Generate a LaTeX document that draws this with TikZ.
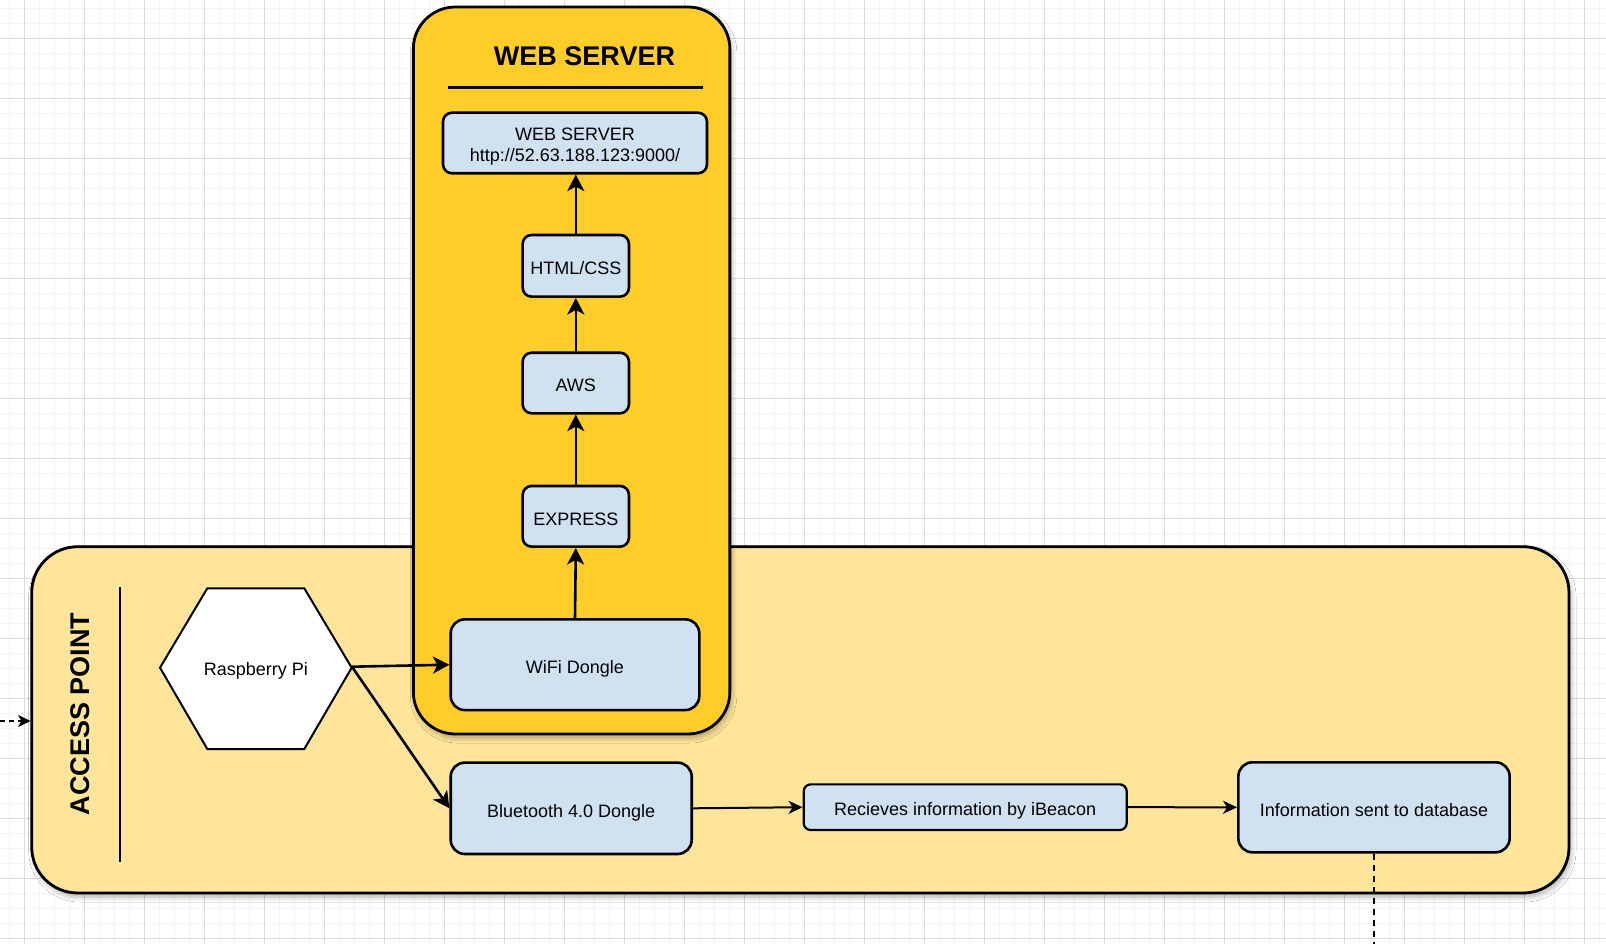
\documentclass[tikz,border=0pt]{standalone}
\usepackage{fontspec}
\setmainfont{Liberation Sans}
\usetikzlibrary{arrows.meta,shadows.blur}

\definecolor{gridmajor}{RGB}{220,220,220}
\definecolor{gridminor}{RGB}{244,244,244}
\definecolor{serverfill}{RGB}{255,205,40}
\definecolor{apfill}{RGB}{255,229,153}
\definecolor{boxfill}{RGB}{208,225,242}

\begin{document}
\begin{tikzpicture}[x=1pt,y=-1pt,
  container/.style={draw=black, line width=2.8pt, inner sep=0pt,
    blur shadow={shadow xshift=2pt, shadow yshift=-4pt, shadow blur radius=5pt,
      shadow opacity=30, shadow blur steps=8}},
  heading/.style={inner sep=0pt, font=\fontsize{27}{30}\selectfont\bfseries},
  stepbox/.style={draw=black, line width=2.6pt, fill=boxfill, inner sep=0pt,
    align=center, font=\fontsize{18}{21}\selectfont,
    text height=17.5pt, text depth=0pt},
  plain/.style={inner sep=0pt, font=\fontsize{18}{21}\selectfont},
  rule/.style={line width=2.6pt},
  uparrow/.style={line width=2.6pt, -{Stealth[length=16.5pt,width=17pt,inset=4.5pt]}},
  flowarrow/.style={line width=2pt, -{Stealth[length=14pt,width=13pt,inset=4pt]}},
  feedarrow/.style={line width=1.8pt, dash pattern=on 5pt off 4pt,
    -{Stealth[length=12pt,width=12pt,inset=3pt]}},
  feedline/.style={line width=1.6pt, dash pattern=on 6pt off 5pt},
]
\useasboundingbox (0,0) rectangle (1606,944);
\clip (0,0) rectangle (1606,944);

% background grid
\fill[white] (0,0) rectangle (1606,944);
\foreach \x in {9.3,24.3,...,1606} \draw[gridminor, line width=1pt] (\x,0) -- (\x,944);
\foreach \y in {8.3,23.3,...,944} \draw[gridminor, line width=1pt] (0,\y) -- (1606,\y);
\foreach \x in {24.3,84.3,...,1606} \draw[gridmajor, line width=1pt] (\x,0) -- (\x,944);
\foreach \y in {38.3,98.3,...,944} \draw[gridmajor, line width=1pt] (0,\y) -- (1606,\y);

% access point container
\node[container, fill=apfill, rounded corners=46pt,
  minimum width=1537.3pt, minimum height=346.3pt] (ap) at (800.35,719.85) {};
\node[heading, rotate=90] (aptitle) at (80,714) {ACCESS POINT};
\draw[rule] (120,587.3) -- (120,861.7);

% web server container
\node[container, fill=serverfill, rounded corners=42pt,
  minimum width=316.5pt, minimum height=727pt] (ws) at (571.6,370.5) {};
\node[heading] (wstitle) at (584.5,56) {WEB SERVER};
\draw[rule] (448,87.3) -- (703,87.3);

% web server stack
\node[stepbox, rounded corners=9pt, minimum width=264pt, minimum height=60.6pt,
  text height=37.4pt, text depth=0pt]
  (wsbox) at (575,143) {WEB SERVER\\http://52.63.188.123:9000/};
\node[stepbox, rounded corners=9pt, minimum width=106.3pt, minimum height=61.7pt]
  (html) at (575.8,265.8) {HTML/CSS};
\node[stepbox, rounded corners=9pt, minimum width=106.3pt, minimum height=60.6pt]
  (aws) at (575.8,383) {AWS};
\node[stepbox, rounded corners=9pt, minimum width=106.3pt, minimum height=60.7pt]
  (express) at (575.8,516.3) {EXPRESS};
\node[stepbox, rounded corners=14pt, minimum width=248.6pt, minimum height=90.7pt]
  (wifi) at (575,664.7) {WiFi Dongle};

% access point chain
\path[fill=white, draw=black, line width=2pt, line join=miter]
  (160,667.7) -- (207.3,588.3) -- (304.3,588.3) -- (351.7,667.7)
  -- (304.3,749) -- (207.3,749) -- cycle;
\node[plain, minimum width=191.7pt, minimum height=160.7pt,
  text height=17.5pt, text depth=0pt] (rpi) at (255.9,666.7) {Raspberry Pi};
\node[stepbox, rounded corners=14pt, minimum width=241pt, minimum height=91.3pt]
  (bt) at (571.2,808.3) {Bluetooth 4.0 Dongle};
\node[stepbox, line width=2.2pt, rounded corners=7pt, minimum width=323pt, minimum height=45.7pt]
  (recv) at (965.2,807.2) {Recieves information by iBeacon};
\node[stepbox, rounded corners=14pt, minimum width=271.3pt, minimum height=90pt]
  (info) at (1374,807.3) {Information sent to database};

% connectors
\draw[uparrow] (wifi.north) -- (express.south);
\draw[uparrow] (express.north) -- (aws.south);
\draw[uparrow] (aws.north) -- (html.south);
\draw[uparrow] (html.north) -- (html.north |- wsbox.south);
\draw[uparrow] (rpi.east) -- (wifi.west);
\draw[uparrow] (rpi.east) -- (bt.west);
\draw[flowarrow] (bt.east) -- (recv.west);
\draw[flowarrow] (recv.east) -- (info.west);

\coordinate (feedin) at (0,721);
\draw[feedarrow] (feedin) -- (feedin -| ap.west);
\coordinate (feedout) at (1374.5,944);
\draw[feedline] (info.south) -- (info.south |- feedout);
\end{tikzpicture}
\end{document}
